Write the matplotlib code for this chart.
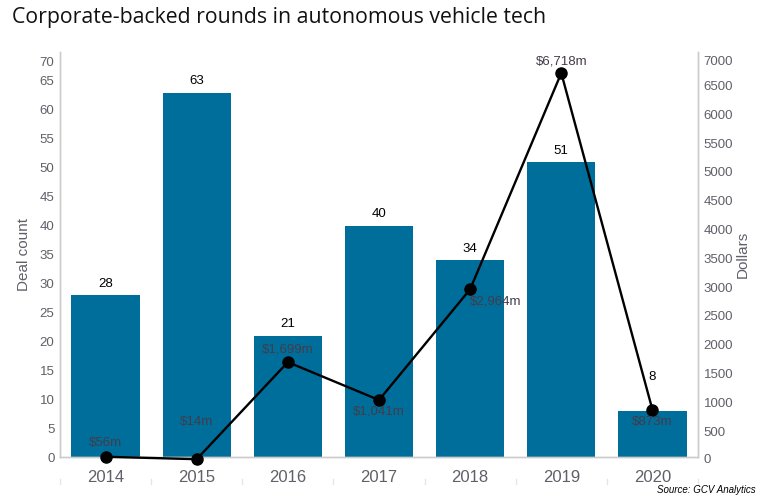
import matplotlib
matplotlib.use('Agg')
import matplotlib.pyplot as plt
import matplotlib.transforms as mtransforms
import numpy as np

years = ['2014', '2015', '2016', '2017', '2018', '2019', '2020']
deal_count = [28, 63, 21, 40, 34, 51, 8]
dollars = [56, 14, 1699, 1041, 2964, 6718, 873]
dollar_labels = ['$56m', '$14m', '$1,699m', '$1,041m', '$2,964m', '$6,718m', '$873m']

# label offsets in points (dx, dy, ha) for the line labels
line_off = [(0, 10, 'center'), (0, 27, 'center'), (0, 9, 'center'), (0, -8, 'center'),
            (0, -9, 'left'), (0, 8, 'center'), (0, -9, 'center')]
bar_off = [8, 8, 8, 8, 8, 8, 24]

plt.rcParams['font.family'] = ['Liberation Sans', 'DejaVu Sans']

fig = plt.figure(figsize=(7.61, 5.03), dpi=100)
ax = fig.add_axes([60/761, 46/503, 638/761, 405/503])
ax2 = ax.twinx()

x = np.arange(len(years))
ax.bar(x, deal_count, width=0.75, color='#006e9b', zorder=1)
for i, v in enumerate(deal_count):
    ax.annotate(str(v), (x[i], v), xytext=(0, bar_off[i]), textcoords='offset points',
                ha='center', va='center', fontsize=9.5, color='black')

ax2.plot(x, dollars, color='black', lw=1.7, marker='o', markersize=8, zorder=3,
         clip_on=False)
for i, v in enumerate(dollars):
    dx, dy, ha = line_off[i]
    ax2.annotate(dollar_labels[i], (x[i], v), xytext=(dx, dy), textcoords='offset points',
                 ha=ha, va='center', fontsize=9.5, color='#443c48', annotation_clip=False)

# the dollar axis zero sits just under the bar baseline in the original
ax.set_xlim(-0.5, 6.5)
ax.set_ylim(0, 70)
ax2.set_ylim(52, 7083)
ax.set_yticks(range(0, 71, 5))
ax2.set_yticks(range(500, 7001, 500))
ax.set_xticks(x)
ax.set_xticklabels(years)

gray = '#5f6068'
ax.tick_params(axis='x', length=0, labelsize=12, colors=gray, pad=9)
ax.tick_params(axis='y', length=0, labelsize=9.5, colors=gray, pad=4)
ax2.tick_params(axis='y', length=0, labelsize=9.5, colors=gray, pad=4)

zero_tr = mtransforms.blended_transform_factory(ax2.transAxes, ax2.transData)
ax2.text(1, 0, '0', transform=zero_tr + mtransforms.ScaledTranslation(5/100, 0, fig.dpi_scale_trans),
         ha='left', va='center', fontsize=9.5, color=gray, clip_on=False)

# top labels sit a little lower, inside the axis
down = mtransforms.ScaledTranslation(0, -9/100, fig.dpi_scale_trans)
top_lbl = ax.get_yticklabels()[-1]
top_lbl.set_transform(top_lbl.get_transform() + down)
down2 = mtransforms.ScaledTranslation(0, -4/100, fig.dpi_scale_trans)
top_lbl2 = ax2.get_yticklabels()[-1]
top_lbl2.set_transform(top_lbl2.get_transform() + down2)

for a in (ax, ax2):
    a.spines['top'].set_visible(False)
    for s in ('left', 'right', 'bottom'):
        a.spines[s].set_color('#cccccc')
        a.spines[s].set_linewidth(1)

# faint separators under the year labels
sep = mtransforms.blended_transform_factory(ax.transData, fig.transFigure)
for b in np.arange(-0.5, 7, 1):
    ax.plot([b, b], [1 - 479/503, 1 - 484/503], transform=sep, color='#e6e6e6',
            lw=1, clip_on=False)

ax.set_ylabel('Deal count', fontsize=11, color=gray, labelpad=6)
ax2.set_ylabel('Dollars', fontsize=11, color=gray, labelpad=2)

fig.text(12/761, 1 - 17/503, 'Corporate-backed rounds in autonomous vehicle tech',
         fontsize=15.3, family=['Open Sans', 'DejaVu Sans'], color='#111111',
         ha='left', va='center')
fig.text(756/761, 1 - 490/503, 'Source: GCV Analytics', fontsize=7, style='italic',
         family=['Liberation Sans Narrow', 'Liberation Sans', 'DejaVu Sans'],
         ha='right', va='center', color='black')

fig.savefig('out.png', dpi=100)
